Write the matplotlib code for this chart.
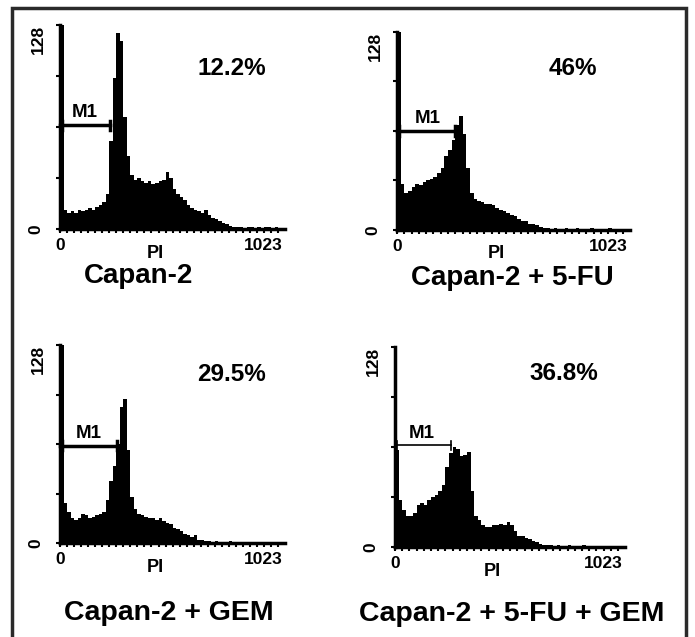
import numpy as np
import matplotlib
matplotlib.use("Agg")
import matplotlib.pyplot as plt
from matplotlib.patches import Rectangle

plt.rcParams['font.family'] = ['Liberation Sans', 'DejaVu Sans']
plt.rcParams['font.weight'] = 'bold'

# histogram counts, 64 bins of 16 channels each (0..1023)
bin_edges = np.arange(0, 1025, 16)

capan2 = [128, 12, 10, 11, 10, 12, 11, 12, 13, 12, 14, 15, 17, 22, 55, 95,
          123, 118, 70, 46, 34, 31, 32, 30, 29, 30, 28, 29, 30, 31, 36, 32,
          25, 22, 20, 18, 15, 13, 12, 11, 10, 12, 9, 7, 6, 5, 4, 3,
          2, 1, 1, 1, 0, 1, 1, 0, 1, 0, 1, 1, 0, 1, 0, 0]

capan2_5fu = [128, 30, 24, 25, 28, 30, 29, 31, 32, 33, 34, 37, 40, 48, 52, 58,
              68, 74, 62, 40, 24, 20, 19, 18, 17, 17, 16, 14, 13, 12, 11, 10,
              9, 7, 6, 6, 4, 4, 3, 2, 1, 1, 0, 1, 0, 0, 1, 0,
              0, 1, 0, 0, 0, 1, 0, 0, 0, 0, 1, 0, 0, 0, 0, 0]

capan2_gem = [128, 26, 20, 16, 15, 16, 19, 18, 16, 17, 18, 19, 20, 28, 40, 50,
              64, 88, 93, 60, 30, 22, 19, 18, 17, 16, 16, 15, 16, 14, 13, 12,
              10, 9, 8, 6, 5, 4, 5, 2, 2, 1, 1, 0, 1, 0, 0, 0,
              1, 0, 0, 0, 0, 0, 0, 0, 0, 0, 0, 0, 0, 0, 0, 0]

capan2_5fu_gem = [62, 30, 24, 20, 20, 22, 27, 28, 27, 30, 32, 33, 36, 40, 51, 60,
                  64, 63, 58, 59, 61, 36, 20, 17, 14, 13, 13, 14, 14, 15, 14, 16,
                  14, 10, 7, 7, 6, 5, 4, 3, 2, 1, 1, 1, 0, 1, 0, 0,
                  1, 0, 0, 0, 1, 0, 0, 0, 0, 0, 0, 0, 0, 0, 0, 0]

titles = ["Capan-2", "Capan-2 + 5-FU", "Capan-2 + GEM", "Capan-2 + 5-FU + GEM"]
percents = ["12.2%", "46%", "29.5%", "36.8%"]
m1_end = [227, 255, 259, 249]
m1_level = [65, 64, 63, 65]

W, H = 695, 637
fig = plt.figure(figsize=(W / 100, H / 100), dpi=100)

# outer frame
fig.add_artist(Rectangle((12 / W, -0.05), (686 - 12) / W, 1.05 - 8 / H,
                         transform=fig.transFigure, fill=False,
                         edgecolor='#2a2a2a', linewidth=2.5))

# panel boxes in pixels: left, top, right, bottom
boxes = [(60, 25, 285, 229), (397, 32, 630, 230),
         (60, 345, 285, 543), (395, 347, 625, 547)]
pct_pos = [(0.764, 0.789), (0.755, 0.818), (0.764, 0.853), (0.735, 0.87)]
title_pos = [(139, 283, 20), (512, 285, 20), (169, 620, 20.5), (512, 621, 20.5)]
m1_text_x = [114, 136, 132, 120]
m1_lw = [2.5, 2.5, 2.5, 1.2]
series = [capan2, capan2_5fu, capan2_gem, capan2_5fu_gem]

for i, counts in enumerate(series):
    l, t, r, b = boxes[i]
    ax = fig.add_axes([l / W, 1 - b / H, (r - l) / W, (b - t) / H])
    ax.stairs(counts, bin_edges, fill=True, color='black')
    ax.set_xlim(0, 1023)
    ax.set_ylim(0, 128)
    for s in ['top', 'right']:
        ax.spines[s].set_visible(False)
    ax.spines['left'].set_linewidth(2.5)
    ax.spines['bottom'].set_linewidth(2.5)
    ax.set_yticks([0, 32, 64, 96, 128])
    ax.set_yticklabels([])
    ax.set_xticks(np.arange(0, 1024, 32))
    ax.set_xticklabels([])
    ax.tick_params(length=3, width=1.5, direction='out')
    ax.patch.set_alpha(0)

    # axis labels
    ax.annotate('0', xy=(0, 0), xytext=(0, -17), textcoords='offset pixels',
                ha='center', va='center', fontsize=12.5)
    ax.annotate('1023', xy=(1023, 0), xytext=(-2, -17), textcoords='offset pixels',
                ha='right', va='center', fontsize=12.5)
    ax.annotate('PI', xy=(435, 0), xytext=(0, -24), textcoords='offset pixels',
                ha='center', va='center', fontsize=13)
    ax.annotate('128', xy=(0, 128), xytext=(-22, -14), textcoords='offset pixels',
                ha='center', va='center', rotation=90, fontsize=12.5)
    ax.annotate('0', xy=(0, 0), xytext=(-24, 0), textcoords='offset pixels',
                ha='center', va='center', rotation=90, fontsize=12.5)

    # M1 marker
    lv = m1_level[i]
    ax.plot([0, m1_end[i]], [lv, lv], color='black', lw=m1_lw[i], clip_on=False)
    ax.plot([m1_end[i], m1_end[i]], [lv - 3, lv + 3], color='black', lw=m1_lw[i])
    ax.plot([8, 8], [lv - 3, lv + 3], color='black', lw=m1_lw[i])
    ax.text(m1_text_x[i], lv + 5, 'M1', ha='center', va='baseline', fontsize=13.5)

    px, py = pct_pos[i]
    ax.text(px, py, percents[i], transform=ax.transAxes,
            ha='center', va='center', fontsize=17.5)

    tx, ty, fs = title_pos[i]
    fig.text(tx / W, 1 - ty / H, titles[i], ha='center', va='baseline', fontsize=fs)

fig.savefig('out.png', dpi=100)
